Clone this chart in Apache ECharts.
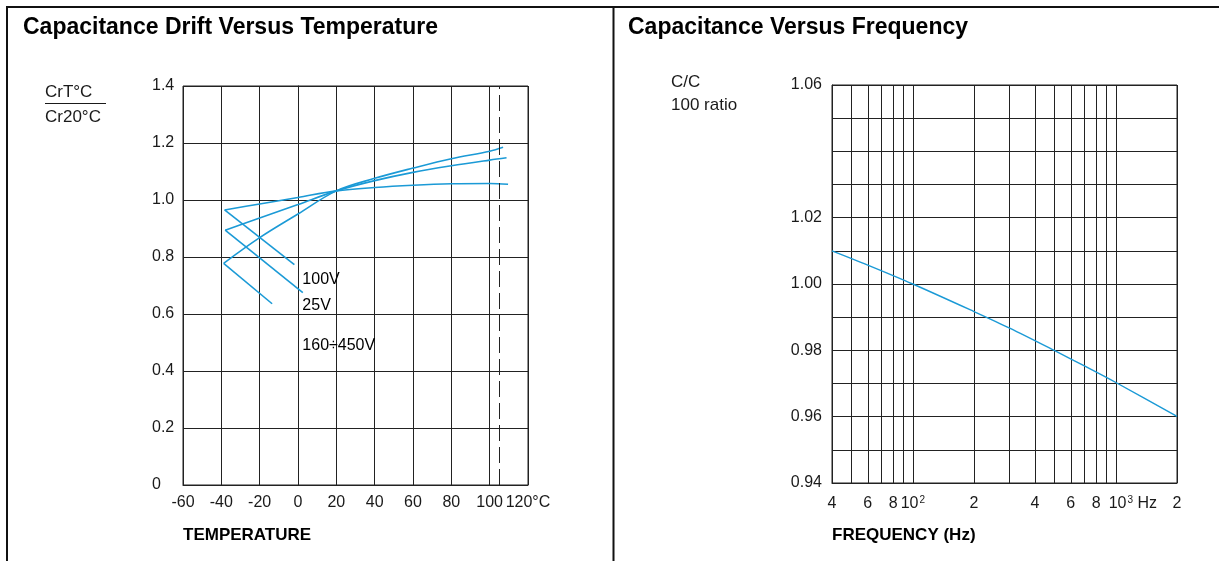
<!DOCTYPE html>
<html>
<head>
<meta charset="utf-8">
<script src="https://cdn.jsdelivr.net/npm/echarts@6/dist/echarts.min.js"></script>
<style>
  html, body { margin: 0; padding: 0; background: #fff; }
  #chart { width: 1219px; height: 561px; }
</style>
</head>
<body>
<div id="chart"></div>
<script>
// ---- Capacitance drift versus temperature ----
const tempTicks = [-60, -40, -20, 0, 20, 40, 60, 80, 100, 120];
const driftTicks = [0, 0.2, 0.4, 0.6, 0.8, 1.0, 1.2, 1.4];
const curve100V = [[-38.3, 0.965], [-20, 0.986], [0, 1.009], [20, 1.032], [40, 1.044], [60, 1.052], [80, 1.057], [100, 1.058], [109.6, 1.055]];
const curve25V = [[-38, 0.894], [-20, 0.937], [0, 0.984], [20, 1.032], [40, 1.068], [60, 1.097], [80, 1.12], [100, 1.14], [108.8, 1.148]];
const curve160to450V = [[-38.8, 0.778], [-20, 0.868], [0, 0.951], [20, 1.032], [40, 1.076], [60, 1.112], [80, 1.145], [100, 1.171], [107, 1.185]];
const leader100V = [[-38.3, 0.965], [-1.9, 0.773]];
const leader25V = [[-38, 0.894], [2.5, 0.675]];
const leader160to450V = [[-38.8, 0.778], [-13.5, 0.636]];
const voltageTags = [[2, 0.72, '100V'], [2, 0.63, '25V'], [2, 0.49, '160÷450V']];
const maxTempLine = 105;

// ---- Capacitance versus frequency ----
const freqGrid = [40, 50, 60, 70, 80, 90, 100, 200, 300, 400, 500, 600, 700, 800, 900, 1000, 2000];
const freqLabelValues = [40, 60, 80, 100, 200, 400, 600, 800, 1000, 2000];
const freqLabelTexts = ['4', '6', '8', '10^2', '2', '4', '6', '8', '10^3 Hz', '2'];
const ratioLabels = [0.94, 0.96, 0.98, 1.00, 1.02, 1.06];
const freqCurve = [[40, 1.010], [60, 1.0057], [100, 1.000], [200, 0.9917], [300, 0.9867], [500, 0.9799], [700, 0.9753], [1000, 0.9703], [2000, 0.9601]];

const FONT = '"Liberation Sans", Arial, Helvetica, sans-serif';
const INK = '#1a1a1a';
const GRID = '#222';
const BLUE = '#1b9ad6';

const lg = v => Math.log10(v);

// tick text: "10^2" becomes 10 with a superscript 2
function freqLabel(v) {
  const i = freqLabelValues.findIndex(f => Math.abs(lg(f) - v) < 1e-6);
  if (i < 0) return '';
  const t = freqLabelTexts[i];
  const m = t.match(/^(\d+)\^(\d)(.*)$/);
  if (!m) return '{b|' + t + '}';
  const pre = m[3] ? '{g| }' : '';
  return pre + '{b|' + m[1] + '}{s|' + m[2] + '}' + (m[3] ? '{b|' + m[3] + '}' : '');
}

const chart = echarts.init(document.getElementById('chart'), null, { renderer: 'canvas' });

const lineSeries = (data, smooth) => ({
  type: 'line', xAxisIndex: 0, yAxisIndex: 0, data, smooth,
  showSymbol: false, symbol: 'none',
  lineStyle: { color: BLUE, width: 1.6 }, silent: true
});

chart.setOption({
  animation: false,
  backgroundColor: '#fff',
  textStyle: { fontFamily: FONT },
  grid: [
    { left: 183, top: 86, right: 691, bottom: 76, show: true, borderColor: GRID, borderWidth: 1 },
    { left: 832, top: 85, right: 42, bottom: 78, show: true, borderColor: GRID, borderWidth: 1 }
  ],
  xAxis: [
    {
      gridIndex: 0, type: 'value', min: tempTicks[0], max: tempTicks[tempTicks.length - 1], interval: 20,
      axisLine: { show: true, lineStyle: { color: GRID, width: 1 } },
      axisTick: { show: false },
      splitLine: { show: true, lineStyle: { color: GRID, width: 1 } },
      axisLabel: {
        color: INK, fontSize: 16, fontFamily: FONT, margin: 10,
        showMinLabel: true, showMaxLabel: true, hideOverlap: false,
        customValues: tempTicks,
        formatter: v => (v === 120 ? '120°C' : String(v))
      }
    },
    {
      gridIndex: 1, type: 'value', min: lg(40), max: lg(2000),
      axisLine: { show: true, lineStyle: { color: GRID, width: 1 } },
      axisTick: { show: false, customValues: freqGrid.map(lg) },
      splitLine: { show: true, lineStyle: { color: GRID, width: 1 } },
      axisLabel: {
        color: INK, margin: 12, fontFamily: FONT,
        showMinLabel: true, showMaxLabel: true, hideOverlap: false,
        customValues: freqLabelValues.map(lg),
        formatter: freqLabel,
        rich: {
          b: { fontSize: 16, fontFamily: FONT, color: INK, lineHeight: 18 },
          s: { fontSize: 10, fontFamily: FONT, color: INK, verticalAlign: 'top', lineHeight: 18, padding: [0, 0, 0, 1] },
          g: { width: 34, fontSize: 16 }
        }
      }
    }
  ],
  yAxis: [
    {
      gridIndex: 0, type: 'value', min: 0, max: 1.4, interval: 0.2,
      axisLine: { show: true, lineStyle: { color: GRID, width: 1 } },
      axisTick: { show: false },
      splitLine: { show: true, lineStyle: { color: GRID, width: 1 } },
      axisLabel: {
        color: INK, fontSize: 16, fontFamily: FONT, margin: 31, align: 'left',
        showMinLabel: true, showMaxLabel: true, hideOverlap: false,
        customValues: driftTicks,
        formatter: v => (Math.abs(v) < 1e-9 ? '0' : v.toFixed(1))
      }
    },
    {
      gridIndex: 1, type: 'value', min: 0.94, max: 1.06, interval: 0.01,
      axisLine: { show: true, lineStyle: { color: GRID, width: 1 } },
      axisTick: { show: false },
      splitLine: { show: true, lineStyle: { color: GRID, width: 1 } },
      axisLabel: {
        color: INK, fontSize: 16, fontFamily: FONT, margin: 10,
        showMinLabel: true, showMaxLabel: true, hideOverlap: false,
        customValues: ratioLabels,
        formatter: v => v.toFixed(2)
      }
    }
  ],
  series: [
    Object.assign(lineSeries(curve100V, 0.35), { name: '100V' }),
    Object.assign(lineSeries(curve25V, 0.35), { name: '25V' }),
    Object.assign(lineSeries(curve160to450V, 0.35), { name: '160÷450V' }),
    lineSeries(leader100V, false),
    lineSeries(leader25V, false),
    Object.assign(lineSeries(leader160to450V, false), {
      markLine: {
        silent: true, symbol: 'none', label: { show: false },
        lineStyle: { color: GRID, width: 1, type: [16, 6] },
        data: [{ xAxis: maxTempLine }]
      }
    }),
    {
      type: 'scatter', xAxisIndex: 0, yAxisIndex: 0, silent: true,
      data: voltageTags, symbolSize: 1,
      itemStyle: { color: 'rgba(0,0,0,0)' },
      label: {
        show: true, position: 'right', distance: 0, opacity: 1,
        color: '#000', fontSize: 16, fontFamily: FONT,
        formatter: p => p.data[2]
      }
    },
    {
      type: 'line', xAxisIndex: 1, yAxisIndex: 1, silent: true,
      data: freqCurve.map(([f, v]) => [lg(f), v]),
      smooth: 0.3, showSymbol: false, symbol: 'none',
      lineStyle: { color: BLUE, width: 1.4 }
    }
  ],
  graphic: [
    // panel frame
    { type: 'line', shape: { x1: 6, y1: 7, x2: 1219, y2: 7 }, style: { stroke: '#111', lineWidth: 2 } },
    { type: 'line', shape: { x1: 7, y1: 6, x2: 7, y2: 561 }, style: { stroke: '#111', lineWidth: 2 } },
    { type: 'line', shape: { x1: 613.5, y1: 6, x2: 613.5, y2: 561 }, style: { stroke: '#111', lineWidth: 2 } },
    // panel titles
    { type: 'text', x: 23, y: 28, style: { text: 'Capacitance Drift Versus Temperature', font: 'bold 23px ' + FONT, fill: '#000', textVerticalAlign: 'middle' } },
    { type: 'text', x: 628, y: 28, style: { text: 'Capacitance Versus Frequency', font: 'bold 23px ' + FONT, fill: '#000', textVerticalAlign: 'middle' } },
    // left axis captions
    { type: 'text', x: 45, y: 92, style: { text: 'CrT°C', font: '17px ' + FONT, fill: INK, textVerticalAlign: 'middle' } },
    { type: 'line', shape: { x1: 45, y1: 103.5, x2: 106, y2: 103.5 }, style: { stroke: INK, lineWidth: 1 } },
    { type: 'text', x: 45, y: 117, style: { text: 'Cr20°C', font: '17px ' + FONT, fill: INK, textVerticalAlign: 'middle' } },
    { type: 'text', x: 183, y: 535, style: { text: 'TEMPERATURE', font: 'bold 17px ' + FONT, fill: '#000', textVerticalAlign: 'middle' } },
    // right axis captions
    { type: 'text', x: 671, y: 82, style: { text: 'C/C', font: '17px ' + FONT, fill: INK, textVerticalAlign: 'middle' } },
    { type: 'text', x: 671, y: 105.5, style: { text: '100 ratio', font: '17px ' + FONT, fill: INK, textVerticalAlign: 'middle' } },
    { type: 'text', x: 832, y: 535, style: { text: 'FREQUENCY (Hz)', font: 'bold 17px ' + FONT, fill: '#000', textVerticalAlign: 'middle' } }
  ]
});
</script>
</body>
</html>
